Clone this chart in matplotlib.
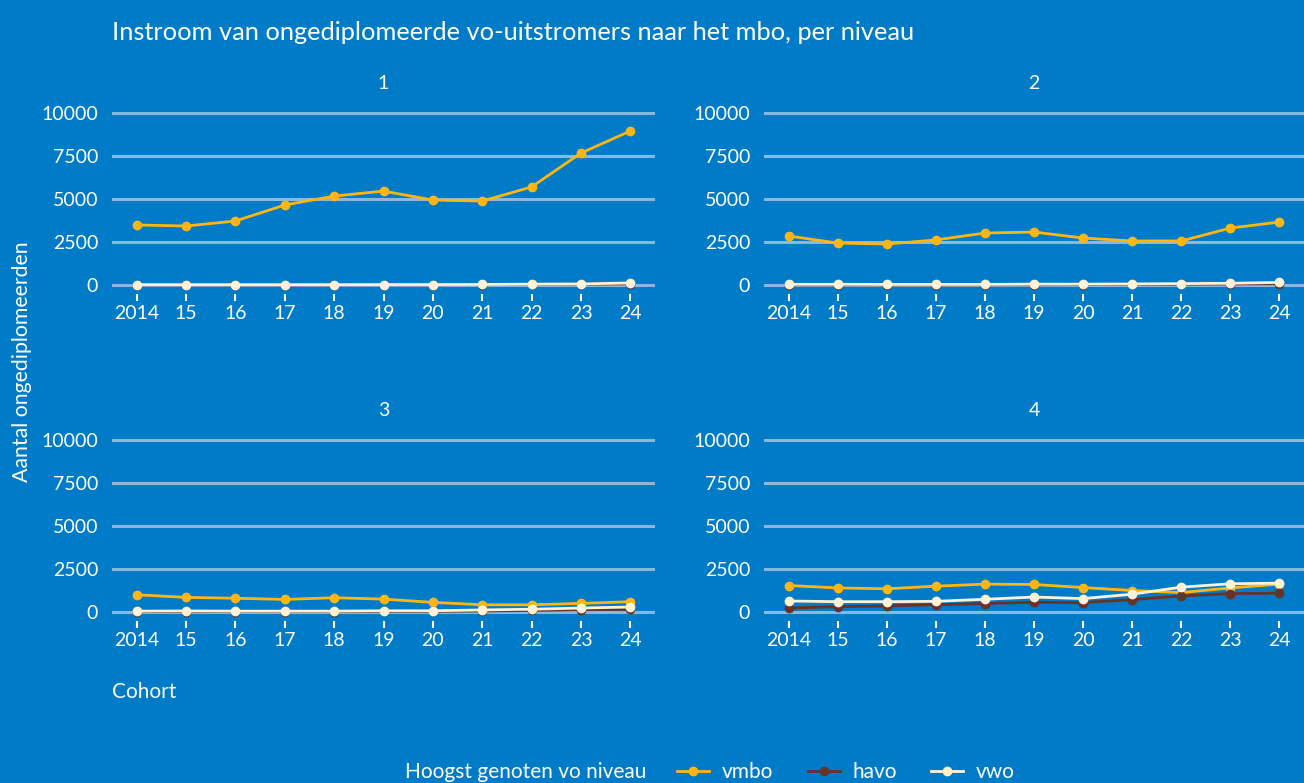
import matplotlib
matplotlib.use("Agg")
import matplotlib.pyplot as plt
from matplotlib.lines import Line2D

plt.rcParams['font.family'] = ['Lato', 'DejaVu Sans']

# data: instroom per niveau (1-4), per vo-niveau
cohorts = [2014, 2015, 2016, 2017, 2018, 2019, 2020, 2021, 2022, 2023, 2024]
tick_labels = ['2014', '15', '16', '17', '18', '19', '20', '21', '22', '23', '24']
niveaus = ['1', '2', '3', '4']

vmbo_1 = [3490, 3430, 3720, 4650, 5170, 5460, 4940, 4880, 5700, 7670, 8950]
havo_1 = [10, 10, 10, 10, 10, 15, 15, 25, 35, 45, 70]
vwo_1 = [20, 20, 20, 20, 20, 25, 25, 30, 50, 60, 120]

vmbo_2 = [2850, 2440, 2380, 2620, 3020, 3080, 2730, 2560, 2560, 3310, 3660]
havo_2 = [10, 10, 10, 10, 10, 15, 20, 30, 45, 60, 80]
vwo_2 = [40, 40, 35, 35, 35, 50, 50, 60, 80, 100, 150]

vmbo_3 = [1000, 850, 800, 730, 830, 750, 560, 420, 420, 500, 600]
havo_3 = [20, 25, 25, 25, 25, 30, 35, 60, 90, 140, 150]
vwo_3 = [50, 60, 50, 50, 50, 70, 70, 120, 160, 230, 290]

vmbo_4 = [1540, 1400, 1350, 1500, 1620, 1600, 1420, 1250, 1130, 1400, 1620]
havo_4 = [230, 310, 350, 430, 490, 565, 545, 720, 935, 1070, 1090]
vwo_4 = [640, 600, 600, 620, 740, 870, 780, 1035, 1445, 1640, 1680]

series = {
    '1': {'vmbo': vmbo_1, 'havo': havo_1, 'vwo': vwo_1},
    '2': {'vmbo': vmbo_2, 'havo': havo_2, 'vwo': vwo_2},
    '3': {'vmbo': vmbo_3, 'havo': havo_3, 'vwo': vwo_3},
    '4': {'vmbo': vmbo_4, 'havo': havo_4, 'vwo': vwo_4},
}

bg = '#007BC7'
grid_col = '#8DB6DC'
colors = {'vmbo': '#FFB612', 'havo': '#673327', 'vwo': '#FFF2D6'}

W, H = 1304, 783
fig = plt.figure(figsize=(W / 100, H / 100), dpi=100, facecolor=bg)

# axes boxes in pixels: left, top, right, bottom
boxes = [(112, 104.4, 655, 293.6), (764, 104.4, 1304, 293.6),
         (112, 431.4, 655, 620.6), (764, 431.4, 1304, 620.6)]

for niv, (l, t, r, b) in zip(niveaus, boxes):
    ax = fig.add_axes([l / W, 1 - b / H, (r - l) / W, (b - t) / H])
    ax.set_facecolor(bg)
    for s in ax.spines.values():
        s.set_visible(False)
    ax.set_xlim(2013.5, 2024.5)
    ax.set_ylim(-500, 10500)
    ax.set_yticks([0, 2500, 5000, 7500, 10000])
    ax.set_yticklabels(['0', '2500', '5000', '7500', '10000'])
    ax.set_xticks(cohorts)
    ax.set_xticklabels(tick_labels)
    ax.yaxis.grid(True, color=grid_col, lw=2.2)
    ax.set_axisbelow(True)
    ax.tick_params(axis='y', length=0, labelsize=14, labelcolor='white', pad=10)
    ax.tick_params(axis='x', length=5, width=1.5, color='white', labelsize=14,
                   labelcolor='white', pad=3)
    for name in ['vmbo', 'havo', 'vwo']:
        ax.plot(cohorts, series[niv][name], color=colors[name], lw=2,
                marker='o', ms=6, zorder=3)
    ax.text(0.5, 1.113, niv, transform=ax.transAxes, ha='center', va='center',
            color='white', fontsize=14)

fig.text(112 / W, 1 - 32 / H, 'Instroom van ongediplomeerde vo-uitstromers naar het mbo, per niveau',
         color='white', fontsize=18.3, ha='left', va='center')
fig.text(22 / W, 1 - 362 / H, 'Aantal ongediplomeerden', rotation=90,
         color='white', fontsize=15.3, ha='center', va='center')
fig.text(112 / W, 1 - 692 / H, 'Cohort', color='white', fontsize=15,
         ha='left', va='center')

fig.text(405 / W, 1 - 772 / H, 'Hoogst genoten vo niveau', color='white',
         fontsize=15, ha='left', va='center')
handles = [Line2D([], [], color=colors[n], lw=2, marker='o', ms=6) for n in ['vmbo', 'havo', 'vwo']]
leg = fig.legend(handles, ['vmbo', 'havo', 'vwo'], ncol=3, loc='center left',
                 bbox_to_anchor=(677 / W, 1 - 772 / H), frameon=False,
                 fontsize=15, labelcolor='white', handlelength=1.55,
                 handletextpad=0.6, columnspacing=1.65, borderpad=0, borderaxespad=0)

fig.savefig('out.png', dpi=100, facecolor=bg)
